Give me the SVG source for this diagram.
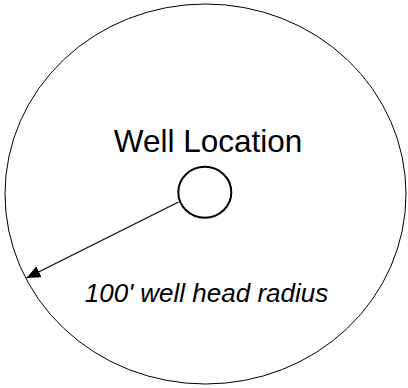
<svg xmlns="http://www.w3.org/2000/svg" width="408" height="388" viewBox="0 0 408 388">
<defs>
<style>
.t{font-family:"Liberation Sans",Arial,sans-serif;fill:#000}
</style>
<marker id="ah" markerWidth="14" markerHeight="12" refX="14" refY="6" orient="auto" markerUnits="userSpaceOnUse" viewBox="0 0 14 12">
<path d="M0,0 L14,6 L0,12 Z" fill="#000"/>
</marker>
</defs>
<rect width="408" height="388" fill="#fff"/>
<g id="boundary">
<ellipse cx="205.5" cy="194" rx="200.5" ry="190" fill="none" stroke="#000" stroke-width="1"/>
</g>
<g id="well">
<text class="t" x="208" y="152" font-size="31.5" text-anchor="middle">Well Location</text>
<ellipse cx="204.8" cy="192.3" rx="26.5" ry="25.5" fill="#fff" stroke="#000" stroke-width="2"/>
</g>
<g id="connectors">
<line x1="178.5" y1="202" x2="26.5" y2="278" stroke="#000" stroke-width="1.2" marker-end="url(#ah)"/>
</g>
<g id="label">
<text class="t" x="206.5" y="302" font-size="26" font-style="italic" text-anchor="middle">100' well head radius</text>
</g>
</svg>
